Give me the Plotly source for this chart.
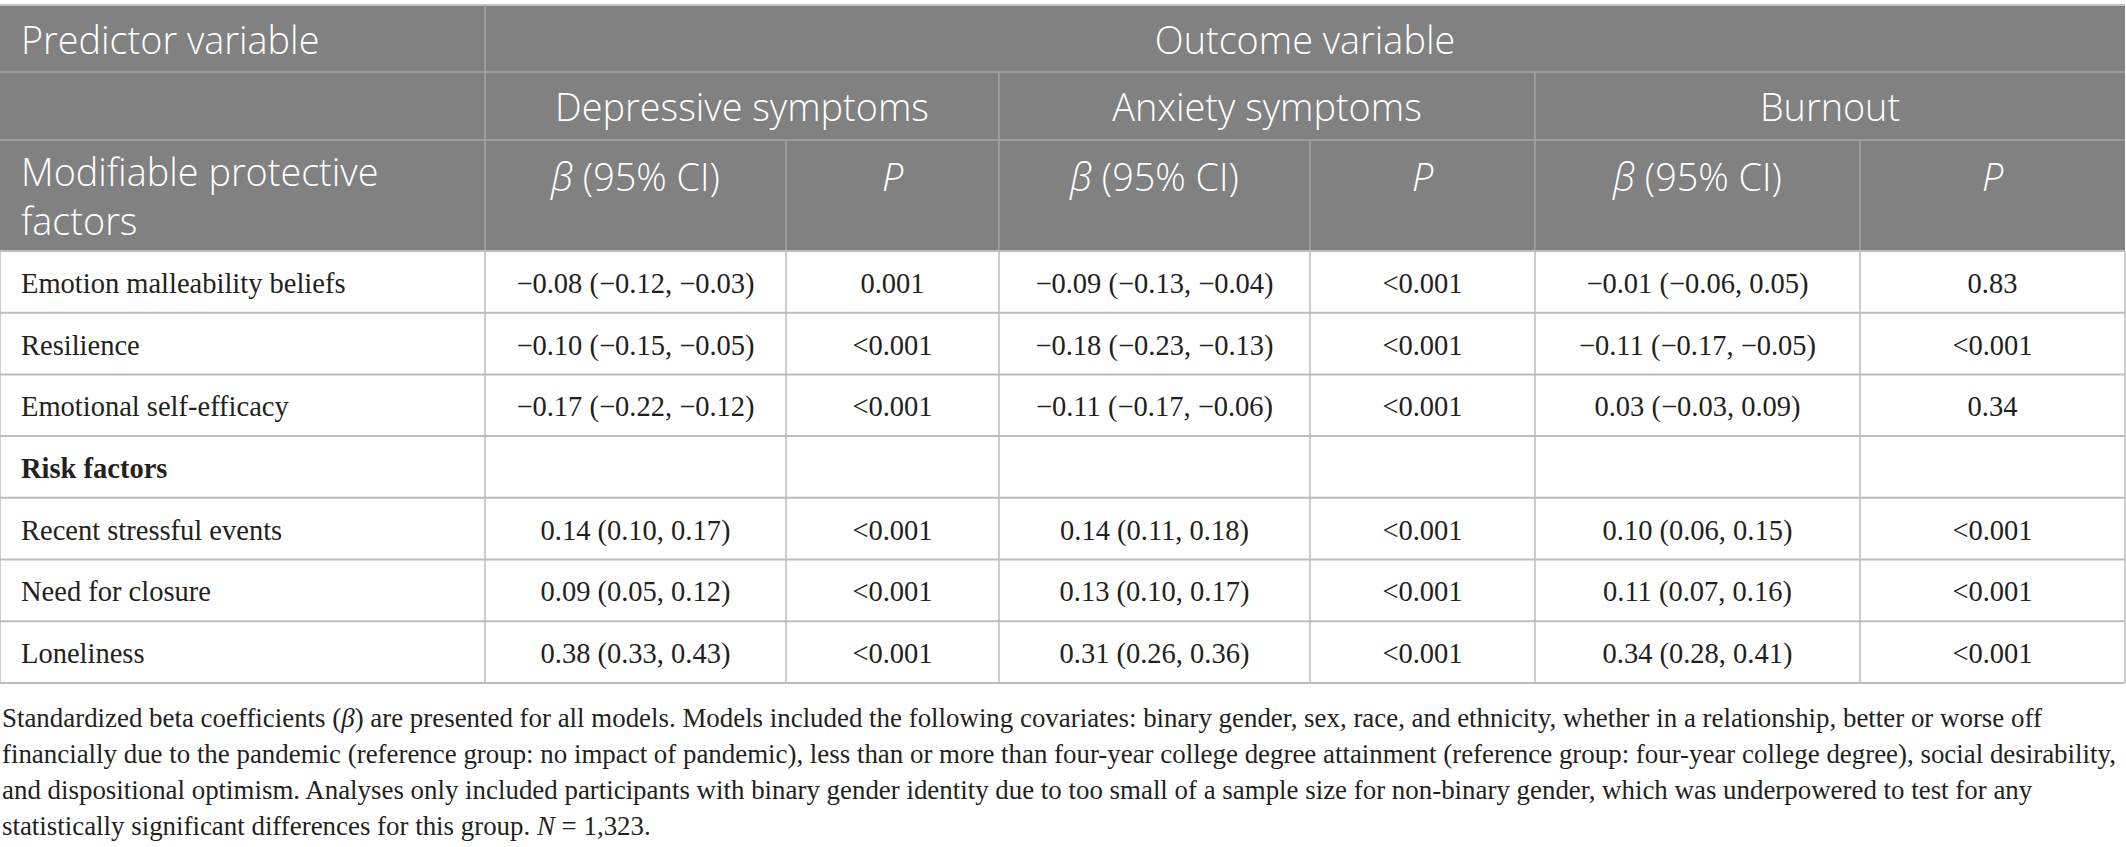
import plotly.graph_objects as go

# table content
predictors = ["Emotion malleability beliefs", "Resilience", "Emotional self-efficacy",
              "Risk factors", "Recent stressful events", "Need for closure", "Loneliness"]
outcomes = ["Depressive symptoms", "Anxiety symptoms", "Burnout"]
dep_beta = ["−0.08 (−0.12, −0.03)", "−0.10 (−0.15, −0.05)", "−0.17 (−0.22, −0.12)", "",
            "0.14 (0.10, 0.17)", "0.09 (0.05, 0.12)", "0.38 (0.33, 0.43)"]
dep_p = ["0.001", "<0.001", "<0.001", "", "<0.001", "<0.001", "<0.001"]
anx_beta = ["−0.09 (−0.13, −0.04)", "−0.18 (−0.23, −0.13)", "−0.11 (−0.17, −0.06)", "",
            "0.14 (0.11, 0.18)", "0.13 (0.10, 0.17)", "0.31 (0.26, 0.36)"]
anx_p = ["<0.001", "<0.001", "<0.001", "", "<0.001", "<0.001", "<0.001"]
burn_beta = ["−0.01 (−0.06, 0.05)", "−0.11 (−0.17, −0.05)", "0.03 (−0.03, 0.09)", "",
             "0.10 (0.06, 0.15)", "0.11 (0.07, 0.16)", "0.34 (0.28, 0.41)"]
burn_p = ["0.83", "<0.001", "0.34", "", "<0.001", "<0.001", "<0.001"]
bold_rows = ["Risk factors"]

footnote = [
    "Standardized beta coefficients (<i>β</i>) are presented for all models. Models included the following covariates: binary gender, sex, race, and ethnicity, whether in a relationship, better or worse off",
    "financially due to the pandemic (reference group: no impact of pandemic), less than or more than four-year college degree attainment (reference group: four-year college degree), social desirability,",
    "and dispositional optimism. Analyses only included participants with binary gender identity due to too small of a sample size for non-binary gender, which was underpowered to test for any",
    "statistically significant differences for this group. <i>N</i> = 1,323.",
]

# layout (pixels)
W, H = 2126, 847
col_edges = [0, 485, 786, 999, 1310, 1535, 1860, 2125]
head_edges = [5, 72, 140, 251]
body_top, row_h = 251, 61.7
HEAD_BG = "#808180"
HEAD_LINE = "#a3a4a3"
BODY_LINE = "#bdbdbd"
SANS = "Open Sans"
SERIF = "Liberation Serif"

columns = [predictors, dep_beta, dep_p, anx_beta, anx_p, burn_beta, burn_p]
n_rows = len(predictors)
row_edges = [body_top + i * row_h for i in range(n_rows + 1)]

fig = go.Figure()
shapes = []

# header background
shapes.append(dict(type="rect", x0=col_edges[0], x1=col_edges[-1], y0=head_edges[0], y1=head_edges[-1],
                   fillcolor=HEAD_BG, line_width=0, layer="below"))

def hline(x0, x1, y, color, w=1.5):
    shapes.append(dict(type="line", x0=x0, x1=x1, y0=y, y1=y, line=dict(color=color, width=w)))

def vline(x, y0, y1, color, w=1.5):
    shapes.append(dict(type="line", x0=x, x1=x, y0=y0, y1=y1, line=dict(color=color, width=w)))

# header grid
hline(col_edges[0], col_edges[-1], head_edges[0], "#c4c4c4", 2)
hline(col_edges[0], col_edges[-1], head_edges[1], HEAD_LINE)
hline(col_edges[0], col_edges[-1], head_edges[2], HEAD_LINE)
vline(col_edges[1], head_edges[0], head_edges[3], HEAD_LINE)
for k in (3, 5):
    vline(col_edges[k], head_edges[1], head_edges[3], HEAD_LINE)
for k in (2, 4, 6):
    vline(col_edges[k], head_edges[2], head_edges[3], HEAD_LINE)

# body grid
for y in row_edges:
    hline(col_edges[0], col_edges[-1], y, BODY_LINE, 2)
for x in col_edges:
    vline(x, row_edges[0], row_edges[-1], BODY_LINE)

# header text
hx, hy, ht, hpos = [], [], [], []
hx.append(col_edges[0] + 21); hy.append(45); ht.append("Predictor variable"); hpos.append("middle right")
hx.append((col_edges[1] + col_edges[-1]) / 2); hy.append(45); ht.append("Outcome variable"); hpos.append("middle center")
for i, name in enumerate(outcomes):
    hx.append((col_edges[1 + 2 * i] + col_edges[3 + 2 * i]) / 2); hy.append(112)
    ht.append(name); hpos.append("middle center")
hx.append(col_edges[0] + 21); hy.append(201); ht.append("Modifiable protective<br>factors"); hpos.append("middle right")
for i in range(3):
    hx.append((col_edges[1 + 2 * i] + col_edges[2 + 2 * i]) / 2); hy.append(182)
    ht.append("<i>β</i> (95% CI)"); hpos.append("middle center")
    hx.append((col_edges[2 + 2 * i] + col_edges[3 + 2 * i]) / 2); hy.append(182)
    ht.append("<i>P</i>"); hpos.append("middle center")

fig.add_trace(go.Scatter(x=hx, y=hy, text=ht, mode="text", textposition=hpos,
                         textfont=dict(family=SANS, size=37.8, color="white", weight=300),
                         hoverinfo="skip"))

# body text
bx, by, bt, bpos = [], [], [], []
for c, col in enumerate(columns):
    for r, val in enumerate(col):
        if not val:
            continue
        yc = (row_edges[r] + row_edges[r + 1]) / 2 + 4
        label = val.replace("<", "&lt;")
        if c == 0:
            if val in bold_rows:
                label = "<b>" + label + "</b>"
            bx.append(col_edges[0] + 21); bpos.append("middle right")
        else:
            bx.append((col_edges[c] + col_edges[c + 1]) / 2); bpos.append("middle center")
        by.append(yc); bt.append(label)

fig.add_trace(go.Scatter(x=bx, y=by, text=bt, mode="text", textposition=bpos,
                         textfont=dict(family=SERIF, size=28.5, color="#231f20"), hoverinfo="skip"))

# footnote, one annotation per line
for i, line in enumerate(footnote):
    fig.add_annotation(x=0, y=row_edges[-1] + 35 + i * 36, xref="x", yref="y",
                       xanchor="left", yanchor="middle", align="left", showarrow=False,
                       text=line, font=dict(family=SERIF, size=26.9, color="#231f20"))

fig.update_layout(
    width=W, height=H, margin=dict(l=0, r=0, t=0, b=0),
    paper_bgcolor="white", plot_bgcolor="white", showlegend=False,
    shapes=shapes,
    xaxis=dict(range=[0, W], visible=False, fixedrange=True),
    yaxis=dict(range=[H, 0], visible=False, fixedrange=True),
)

fig.write_html("out.html", config={"displayModeBar": False},
               post_script="document.body.style.margin='0';")
